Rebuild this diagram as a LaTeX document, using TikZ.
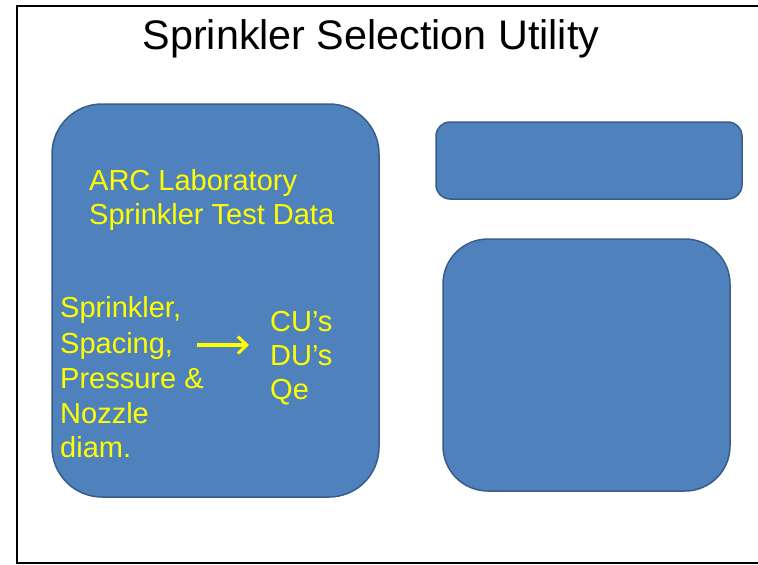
\documentclass[tikz,border=0pt]{standalone}
\usepackage{fontspec}
\setmainfont{Liberation Sans}
\definecolor{boxfill}{HTML}{4F81BD}
\definecolor{boxline}{HTML}{385D8A}
\definecolor{txtyellow}{HTML}{FFFF00}
\usetikzlibrary{arrows.meta}
\tikzset{
  panel/.style={fill=boxfill, draw=boxline, line width=1.5pt},
  ytext/.style={anchor=base west, inner sep=0pt, text=txtyellow, font=\fontsize{29}{34}\selectfont},
  yarrow/.style={draw=txtyellow, line width=3.5pt, -{Straight Barb[length=9pt,width=17pt,line width=3pt]}},
}
\begin{document}
\begin{tikzpicture}[x=1pt,y=-1pt]
\useasboundingbox (0,0) rectangle (758,565);
\fill[white] (0,0) rectangle (758,565);
% frame
\draw[line width=2pt] (758,6) -- (17,6) -- (17,563) -- (758,563);
% title
\node[anchor=base, inner sep=0pt, font=\fontsize{41.3}{48}\selectfont] (title) at (371,49) {Sprinkler Selection Utility};
% panels
\draw[panel, rounded corners=50pt] (52,104) rectangle (379,497);
\draw[panel, rounded corners=14pt] (436,122) rectangle (742,199);
\draw[panel, rounded corners=45pt] (443,239) rectangle (730,491);
% texts
\node[ytext] (arc1) at (89,190) {ARC Laboratory};
\node[ytext] (arc2) at (89,224) {Sprinkler Test Data};
\node[ytext] (in1) at (60,317) {Sprinkler,};
\node[ytext] (in2) at (60,353) {Spacing,};
\node[ytext] (in3) at (60,388) {Pressure \&};
\node[ytext] (in4) at (60,423) {Nozzle};
\node[ytext] (in5) at (60,457) {diam.};
\node[ytext] (out1) at (270,331) {CU’s};
\node[ytext] (out2) at (270,365) {DU’s};
\node[ytext] (out3) at (270,399) {Qe};
% arrow
\coordinate (a1) at (197,345);
\coordinate (a2) at (249,345);
\draw[yarrow] (a1) -- (a2);
\end{tikzpicture}
\end{document}
